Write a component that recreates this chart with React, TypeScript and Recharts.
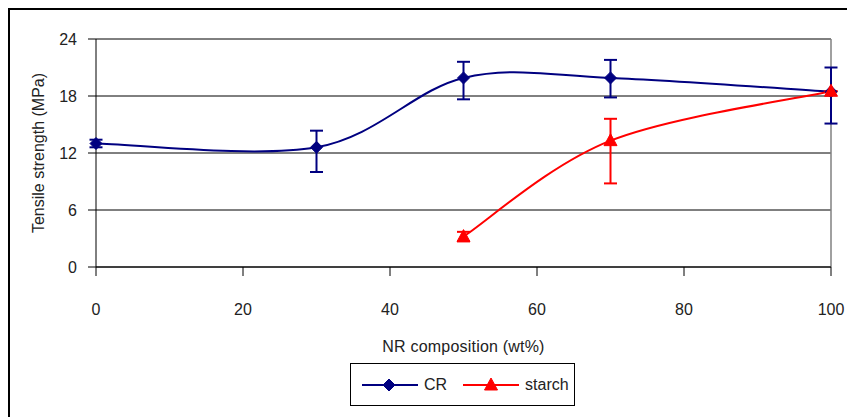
import { CartesianGrid, ErrorBar, Legend, Line, LineChart, ReferenceLine, XAxis, YAxis } from 'recharts';

const composition = [0, 30, 50, 70, 100];
const crStrength = [13.0, 12.6, 19.9, 19.9, 18.45];
const crError = [[0.4, 0.4], [2.6, 1.75], [2.25, 1.7], [2.05, 1.9], [3.35, 2.55]];
const starchStrength = [null, null, 3.2, 13.3, 18.5];
const starchError = [null, null, [0.5, 0.5], [4.5, 2.3], [0, 0]];
const xTicks = [0, 20, 40, 60, 80, 100];
const yTicks = [0, 6, 12, 18, 24];

const NAVY = '#000080';
const RED = '#FF0000';
const FONT = '"Liberation Sans", Arial, sans-serif';
const TEXT = '#222';

const data = composition.map((x, i) => ({
    x,
    cr: crStrength[i],
    crErr: crError[i],
    starch: starchStrength[i],
    starchErr: starchError[i],
}));

// Excel-style smoothed line (Catmull-Rom through the points), as a d3 curve factory
function smoothCurve(context: any) {
    let pts: number[][] = [];
    return {
        areaStart() {},
        areaEnd() {},
        lineStart() {
            pts = [];
        },
        point(x: number, y: number) {
            pts.push([+x, +y]);
        },
        lineEnd() {
            const n = pts.length;
            if (!n) return;
            context.moveTo(pts[0][0], pts[0][1]);
            for (let i = 0; i < n - 1; i++) {
                const p0 = pts[Math.max(i - 1, 0)];
                const p1 = pts[i];
                const p2 = pts[i + 1];
                const p3 = pts[Math.min(i + 2, n - 1)];
                context.bezierCurveTo(
                    p1[0] + (p2[0] - p0[0]) / 6,
                    p1[1] + (p2[1] - p0[1]) / 6,
                    p2[0] - (p3[0] - p1[0]) / 6,
                    p2[1] - (p3[1] - p1[1]) / 6,
                    p2[0],
                    p2[1],
                );
            }
        },
    };
}

const Diamond = (props: any) => {
    const { cx, cy } = props;
    if (cx == null || cy == null) return null;
    const r = 6;
    return <polygon points={`${cx},${cy - r} ${cx + r},${cy} ${cx},${cy + r} ${cx - r},${cy}`} fill={NAVY} stroke={NAVY} />;
};

const Triangle = (props: any) => {
    const { cx, cy, payload } = props;
    if (cx == null || cy == null || payload?.starch == null) return null;
    const w = 6.5;
    return <polygon points={`${cx},${cy - 7} ${cx + w},${cy + 5} ${cx - w},${cy + 5}`} fill={RED} stroke={RED} />;
};

function LegendBox() {
    return (
        <div style={{ border: '1px solid #000', width: 223, height: 41, display: 'flex', alignItems: 'center', fontFamily: FONT, fontSize: 16, color: TEXT, background: '#fff' }}>
            <svg width={56} height={16} style={{ marginLeft: 11 }}>
                <line x1={0} y1={8} x2={56} y2={8} stroke={NAVY} strokeWidth={2} />
                <Diamond cx={27} cy={8} />
            </svg>
            <span style={{ marginLeft: 6 }}>CR</span>
            <svg width={56} height={16} style={{ marginLeft: 16 }}>
                <line x1={0} y1={8} x2={56} y2={8} stroke={RED} strokeWidth={2} />
                <Triangle cx={28} cy={8} payload={{ starch: 1 }} />
            </svg>
            <span style={{ marginLeft: 6 }}>starch</span>
        </div>
    );
}

export default function App() {
    return (
        <div style={{ borderLeft: '2px solid #000', borderTop: '2px solid #000', width: 845, height: 407, background: '#fff' }}>
            <LineChart width={845} height={407} data={data} margin={{ top: 29, right: 24, left: 0, bottom: 0 }}>
                <CartesianGrid vertical={false} stroke="#000" strokeWidth={1} />
                <ReferenceLine x={100} stroke="#808080" strokeWidth={1.5} />
                <XAxis
                    dataKey="x"
                    type="number"
                    domain={[0, 100]}
                    ticks={xTicks}
                    height={150}
                    stroke="#000"
                    tickSize={9}
                    tickMargin={28}
                    tick={{ fill: TEXT, fontSize: 16, fontFamily: FONT }}
                    label={{ value: 'NR composition (wt%)', position: 'insideTop', offset: 74, fill: TEXT, fontSize: 16, fontFamily: FONT, letterSpacing: 0.2 }}
                />
                <YAxis
                    type="number"
                    domain={[0, 24]}
                    ticks={yTicks}
                    width={86}
                    stroke="#000"
                    tickSize={8}
                    tickMargin={11}
                    tick={{ fill: TEXT, fontSize: 16, fontFamily: FONT }}
                    label={{ value: 'Tensile strength (MPa)', angle: -90, position: 'insideLeft', offset: 28, style: { textAnchor: 'middle' }, fill: TEXT, fontSize: 16, fontFamily: FONT }}
                />
                <Line
                    name="CR"
                    dataKey="cr"
                    type={smoothCurve as any}
                    stroke={NAVY}
                    strokeWidth={2}
                    dot={<Diamond />}
                    activeDot={false}
                    isAnimationActive={false}
                >
                    <ErrorBar dataKey="crErr" width={6.5} stroke={NAVY} strokeWidth={2} direction="y" />
                </Line>
                <Line
                    name="starch"
                    dataKey="starch"
                    type={smoothCurve as any}
                    stroke={RED}
                    strokeWidth={2}
                    dot={<Triangle />}
                    activeDot={false}
                    isAnimationActive={false}
                >
                    <ErrorBar dataKey="starchErr" width={6.5} stroke={RED} strokeWidth={2} direction="y" />
                </Line>
                <Legend
                    layout="horizontal"
                    verticalAlign="middle"
                    align="center"
                    content={() => <LegendBox />}
                    wrapperStyle={{ position: 'absolute', left: 340, top: 353, width: 'auto' }}
                />
            </LineChart>
        </div>
    );
}
